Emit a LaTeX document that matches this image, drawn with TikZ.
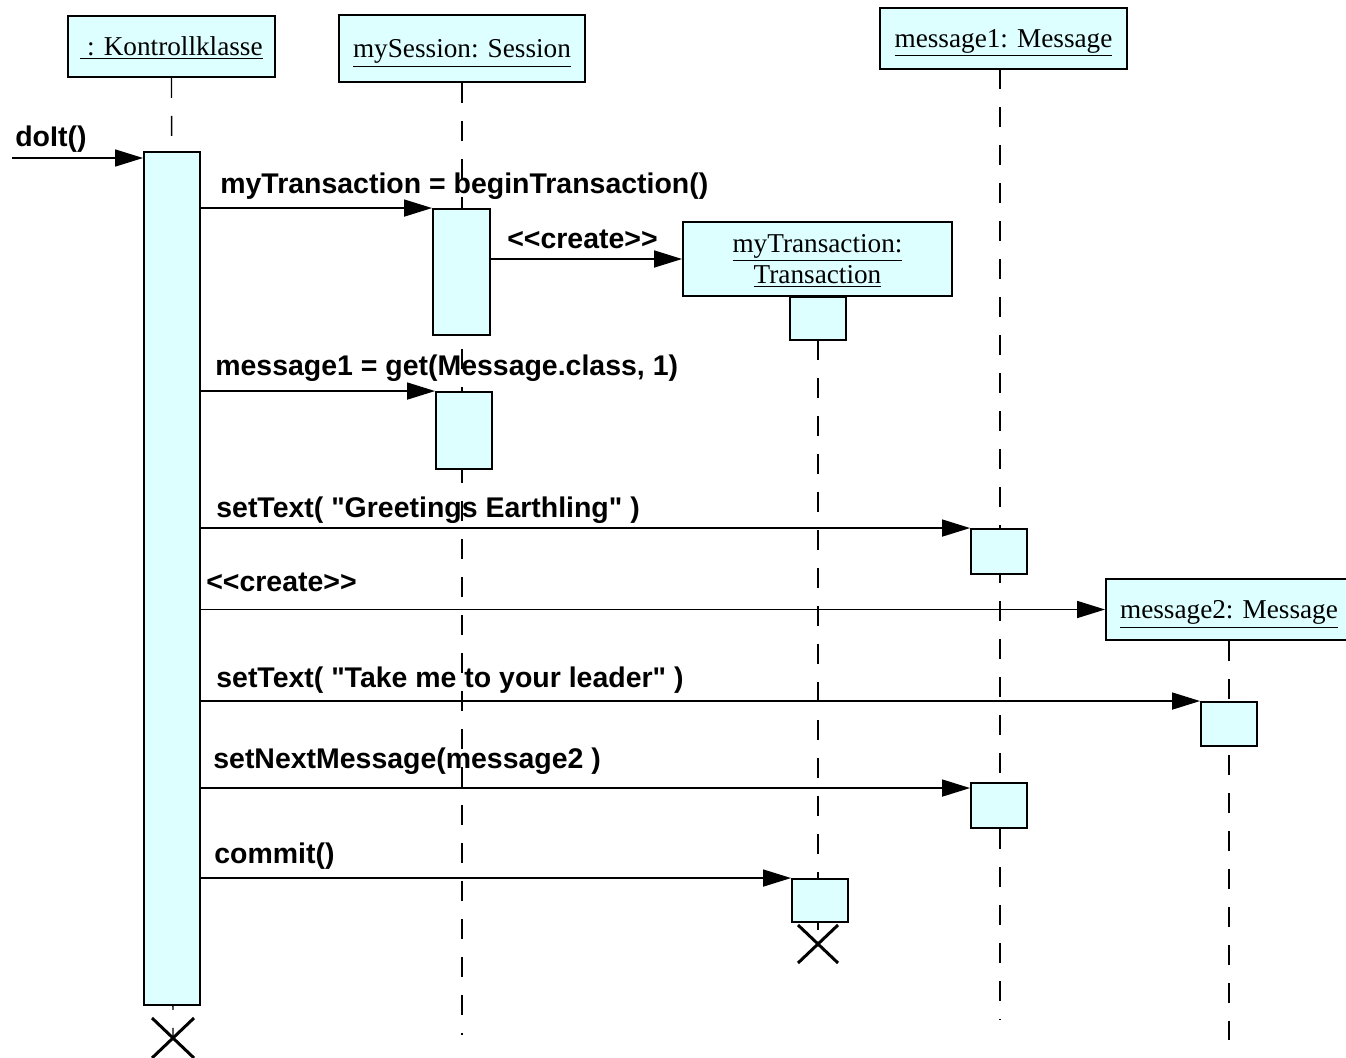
\documentclass[tikz,border=0pt]{standalone}
\usepackage{fontspec}
\setmainfont{Liberation Serif}
\newfontfamily\msgfont{Liberation Sans}
\usetikzlibrary{arrows.meta}
\definecolor{actfill}{HTML}{DDFFFF}
\tikzset{
  objbox/.style={draw, line width=1.1pt, fill=actfill, inner sep=0pt, align=center, text depth=0pt, font=\fontsize{15.5}{18}\selectfont},
  actbox/.style={draw, line width=1.1pt, fill=actfill, inner sep=0pt, minimum width=1.12cm},
  lifeline/.style={line width=0.8pt, dash pattern=on 0.4cm off 0.36cm},
  msg/.style={line width=0.9pt, -{Triangle[length=5.6mm,width=3.4mm]}},
  msglab/.style={anchor=base west, inner sep=0pt, font=\msgfont\bfseries\fontsize{16.2}{18}\selectfont},
  killx/.style={line width=1.7pt}
}

\begin{document}
\begin{tikzpicture}[x=0.02cm, y=-0.02cm]
  \useasboundingbox (0,0) rectangle (1346,1058);

  % objects
  \node[objbox, minimum width=4.14cm, minimum height=1.22cm] (kHead) at (171.5,46.5) {\underline{\ : Kontrollklasse}};
  \node[objbox, minimum width=4.92cm, minimum height=1.34cm] (sHead) at (462,48.5) {\underline{mySession: Session}};
  \node[objbox, minimum width=4.94cm, minimum height=1.22cm] (m1Head) at (1003.5,38.5) {\underline{message1: Message}};

  % end points of the lifelines
  \coordinate (kEnd) at (173,1038);
  \coordinate (sEnd) at (462,1035);
  \coordinate (m1End) at (1000,1020);
  \coordinate (tEnd) at (818,944);
  \coordinate (m2End) at (1229,1040);
  \coordinate (start) at (12,158);

  \node[objbox, minimum width=5.38cm, minimum height=1.48cm] (tHead) at (817.5,259) {\underline{myTransaction:}\\\underline{Transaction}};
  \node[objbox, minimum width=4.92cm, minimum height=1.22cm] (m2Head) at (1229,609.5) {\underline{message2: Message}};

  % lifelines
  \draw[lifeline] (kHead.south) -- (kEnd);
  \draw[lifeline] (sHead.south) -- (sEnd);
  \draw[lifeline] (1000,69) -- (m1End);
  \draw[lifeline] (818,340) -- (tEnd);
  \draw[lifeline] (m2Head.south) -- (m2End);

  % activations
  \node[actbox, minimum height=17.06cm] (kAct) at (172,578.5) {};
  \node[actbox, minimum width=1.14cm, minimum height=2.52cm] (sAct1) at (461.5,272) {};
  \node[actbox, minimum height=1.54cm] (sAct2) at (464,430.5) {};
  \node[actbox, minimum height=0.86cm] (tAct1) at (818,318.5) {};
  \node[actbox, minimum height=0.86cm] (tAct2) at (820,900.5) {};
  \node[actbox, minimum height=0.9cm] (m1Act1) at (999,551.5) {};
  \node[actbox, minimum height=0.9cm] (m1Act2) at (999,805.5) {};
  \node[actbox, minimum height=0.88cm] (m2Act) at (1229,724) {};

  % messages
  \draw[msg] (start) -- (start -| kAct.west);
  \draw[msg] (kAct.east |- sAct1.north) -- (sAct1.north west);
  \draw[msg] (sAct1.east |- tHead.west) -- (tHead.west);
  \draw[msg] (kAct.east |- sAct2.north) -- (sAct2.north west);
  \draw[msg] (kAct.east |- m1Act1.north) -- (m1Act1.north west);
  \draw[msg] (kAct.east |- m2Head.west) -- (m2Head.west);
  \draw[msg] (kAct.east |- m2Act.north) -- (m2Act.north west);
  \draw[msg] ([yshift=-0.12cm]kAct.east |- m1Act2.north) -- ([yshift=-0.12cm]m1Act2.north west);
  \draw[msg] (kAct.east |- tAct2.north) -- (tAct2.north west);

  \node[msglab] (lDoit) at (15,146) {doIt()};
  \node[msglab] (lBegin) at (220,193) {myTransaction = beginTransaction()};
  \node[msglab] (lCreate1) at (507,248) {<<create>>};
  \node[msglab] (lGet) at (215,375) {message1 = get(Message.class, 1)};
  \node[msglab] (lText1) at (216,517) {setText( "Greetings Earthling" )};
  \node[msglab] (lCreate2) at (206,591) {<<create>>};
  \node[msglab] (lText2) at (216,687) {setText( "Take me to your leader" )};
  \node[msglab] (lNext) at (213,768) {setNextMessage(message2 )};
  \node[msglab] (lCommit) at (214,863) {commit()};

  % destruction
  \draw[killx] (kEnd) +(-21,-20) -- +(21,20) +(-21,20) -- +(21,-20);
  \draw[killx] (tEnd) +(-20,-19) -- +(20,19) +(-20,19) -- +(20,-19);
\end{tikzpicture}
\end{document}
